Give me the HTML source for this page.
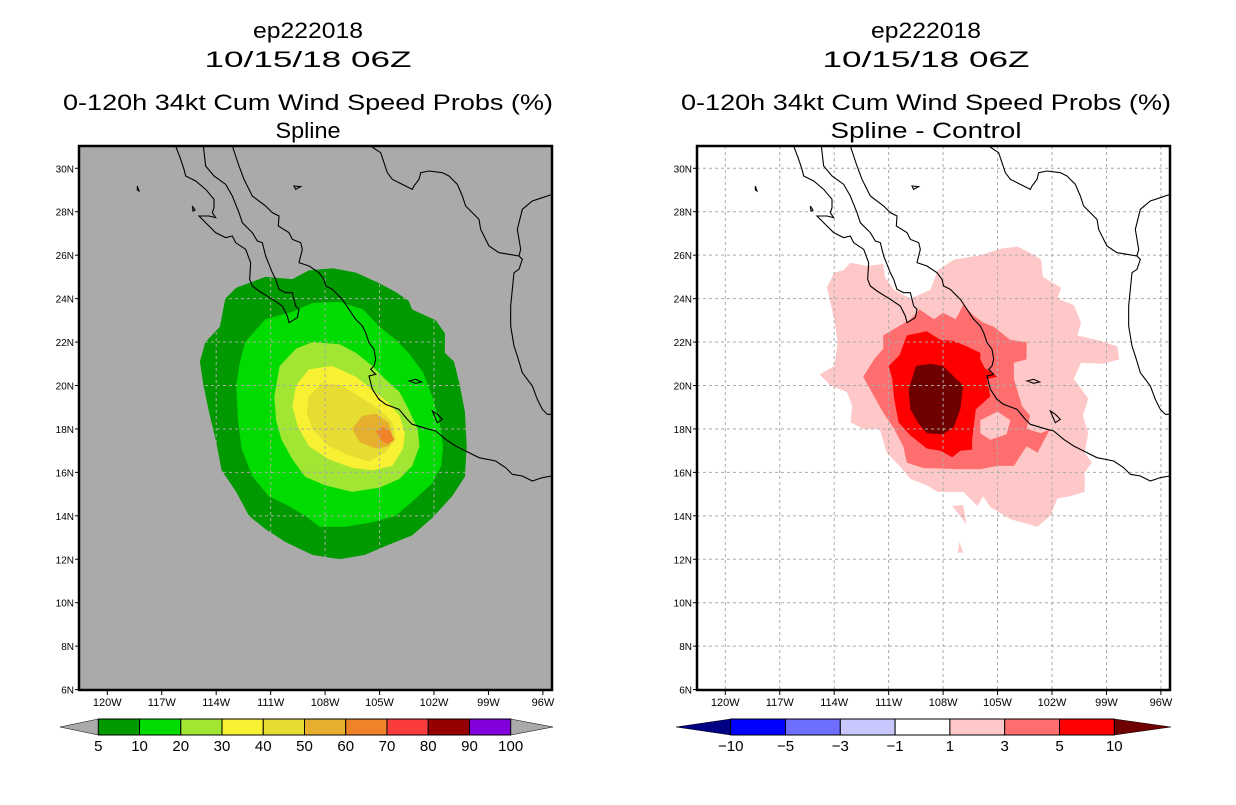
<!DOCTYPE html>
<html><head><meta charset="utf-8"><style>
body{margin:0;background:#fff;}
svg text{font-family:"Liberation Sans",sans-serif;}
</style></head><body>
<svg id="svg" width="1236" height="800" xmlns="http://www.w3.org/2000/svg">
<defs>
<clipPath id="clipL"><rect x="79" y="146" width="473" height="544"/></clipPath>
<clipPath id="clipR"><rect x="697" y="146" width="473" height="544"/></clipPath>
</defs>
</svg>
<script>
// ---------- DATA ----------
const lonTicks = [-120,-117,-114,-111,-108,-105,-102,-99,-96];
const lonTickLabels = ["120W","117W","114W","111W","108W","105W","102W","99W","96W"];
const latTicks = [6,8,10,12,14,16,18,20,22,24,26,28,30];
const latTickLabels = ["6N","8N","10N","12N","14N","16N","18N","20N","22N","24N","26N","28N","30N"];

const probLevels = [5,10,20,30,40,50,60,70,80,90,100];
const probColors = ["#009a00","#00dc00","#a0e632","#f8f032","#e6dc32","#e6af2d","#f08228","#fa3c3c","#960000","#8200dc"];
const prob5 = [[-113.5,24.0],[-112.9,24.5],[-111.3,25.0],[-109.8,24.9],[-108.9,25.3],[-107.6,25.4],[-106.3,25.2],[-105.0,24.7],[-104.1,24.3],[-103.4,23.9],[-103.2,23.5],[-101.9,23.0],[-101.4,22.4],[-101.4,21.5],[-100.9,21.1],[-100.6,20.1],[-100.3,18.8],[-100.2,17.2],[-100.3,15.8],[-101.0,14.9],[-102.1,13.9],[-103.2,13.1],[-104.7,12.6],[-105.8,12.2],[-107.2,12.0],[-108.7,12.2],[-110.2,12.8],[-111.3,13.4],[-112.2,14.0],[-112.9,15.1],[-113.7,16.1],[-114.0,17.4],[-114.4,18.8],[-114.7,20.0],[-114.9,21.1],[-114.6,22.0],[-113.8,22.7]];
const prob10 = [[-112.4,22.0],[-111.3,23.05],[-109.8,23.4],[-108.7,23.8],[-107.2,23.85],[-105.9,23.5],[-105.0,22.7],[-104.1,22.1],[-103.4,21.5],[-102.6,20.6],[-102.1,19.5],[-101.7,18.4],[-101.5,17.2],[-101.6,16.3],[-102.1,15.5],[-103.0,14.8],[-104.1,14.0],[-105.4,13.7],[-106.9,13.5],[-108.3,13.5],[-109.1,14.0],[-110.0,14.45],[-111.1,14.9],[-112.0,15.8],[-112.6,17.1],[-112.8,18.4],[-112.9,20.0],[-112.7,21.05]];
const prob20 = [[-110.5,20.9],[-109.6,21.7],[-108.7,22.0],[-107.2,21.9],[-106.3,21.5],[-105.4,20.9],[-104.7,20.3],[-103.9,19.7],[-103.4,18.9],[-102.9,18.0],[-102.8,17.2],[-103.2,16.3],[-103.9,15.7],[-105.0,15.3],[-106.5,15.1],[-108.0,15.4],[-109.1,15.8],[-109.8,16.6],[-110.4,17.5],[-110.7,18.4],[-110.8,19.5]];
const prob30 = [[-109.6,20.0],[-108.9,20.75],[-107.6,20.9],[-106.3,20.4],[-105.4,19.8],[-104.5,19.2],[-103.9,18.6],[-103.6,17.8],[-103.7,17.1],[-104.3,16.3],[-105.4,16.1],[-106.5,16.2],[-107.8,16.6],[-108.9,17.2],[-109.5,18.1],[-109.8,19.05]];
const prob40 = [[-108.9,19.5],[-108.2,20.1],[-107.05,20.0],[-105.95,19.4],[-105.0,18.9],[-104.3,18.3],[-104.1,17.5],[-104.7,16.9],[-105.6,16.5],[-106.7,16.8],[-107.8,17.2],[-108.7,18.0],[-109.0,18.75]];
const prob50 = [[-106.5,18.0],[-105.95,18.6],[-105.2,18.7],[-104.5,18.3],[-104.3,17.7],[-104.5,17.2],[-105.2,17.1],[-106.1,17.4]];
const prob60 = [[-105.2,17.9],[-104.85,18.1],[-104.4,17.9],[-104.2,17.5],[-104.5,17.3],[-104.9,17.45]];

const diffLevels = [-10,-5,-3,-1,1,3,5,10];
const diffColors = ["#0000ff","#6e6eff","#c8c8ff","#ffffff","#ffc8c8","#ff6e6e","#ff0000"];
const diffLowColor = "#000082", diffHighColor = "#6e0000";
const diff1 = [[-114.4,24.5],[-114.0,25.2],[-113.5,25.3],[-113.1,25.65],[-112.2,25.5],[-111.3,25.6],[-111.2,25.0],[-110.7,24.4],[-109.8,24.0],[-108.7,24.4],[-108.3,25.3],[-107.4,25.8],[-105.95,26.0],[-104.85,26.3],[-103.9,26.4],[-103.2,26.1],[-102.6,25.8],[-102.5,25.0],[-101.5,24.5],[-101.7,24.0],[-100.8,23.7],[-100.4,22.9],[-100.6,22.3],[-99.3,22.05],[-98.4,21.8],[-98.3,21.2],[-99.2,21.0],[-100.4,21.05],[-100.8,20.3],[-100.0,19.4],[-100.3,18.6],[-100.0,17.8],[-100.2,16.9],[-99.8,16.45],[-100.2,16.0],[-100.2,15.1],[-101.0,14.9],[-101.7,14.8],[-102.1,14.0],[-102.8,13.5],[-104.3,13.85],[-105.4,14.4],[-105.8,14.9],[-106.1,14.45],[-106.9,15.1],[-108.3,15.1],[-108.9,15.4],[-109.8,15.7],[-110.4,16.3],[-111.1,16.9],[-111.5,18.0],[-112.4,18.0],[-113.1,18.3],[-113.0,19.05],[-113.3,19.7],[-114.2,20.0],[-114.8,20.5],[-114.0,20.9],[-113.8,22.0],[-114.0,23.05],[-114.2,23.8]];
const diff1b = [[-107.5,14.45],[-106.9,14.5],[-106.7,13.6]];
const diff1c = [[-107.1,12.8],[-106.9,12.3],[-107.2,12.3]];
const diff3 = [[-111.3,22.3],[-110.5,22.7],[-109.8,23.05],[-109.3,23.5],[-108.5,23.05],[-108.0,23.35],[-107.3,23.05],[-106.9,23.7],[-106.3,23.2],[-105.8,22.9],[-105.2,22.7],[-104.3,22.1],[-103.4,22.0],[-103.4,21.2],[-104.1,21.05],[-104.1,20.3],[-103.65,19.05],[-103.2,18.6],[-103.4,18.0],[-102.6,17.8],[-102.1,18.0],[-102.8,16.9],[-103.4,17.2],[-104.1,16.3],[-105.0,16.3],[-105.95,16.15],[-107.2,16.15],[-109.1,16.2],[-110.0,16.45],[-110.2,17.2],[-110.7,18.0],[-111.3,18.75],[-111.8,19.5],[-112.4,20.4],[-111.8,21.2],[-111.3,21.7]];
const diff3hole = [[-105.95,18.4],[-105.0,18.8],[-104.3,18.4],[-104.5,17.75],[-105.4,17.5],[-105.95,17.8]];
const diff5 = [[-111.0,20.9],[-110.4,21.4],[-110.0,22.3],[-108.9,22.5],[-108.15,22.1],[-107.4,22.05],[-106.7,21.8],[-105.95,21.5],[-105.95,21.2],[-105.7,20.8],[-105.0,20.4],[-105.6,20.3],[-105.4,19.5],[-106.2,18.9],[-106.4,17.5],[-106.4,17.05],[-107.05,17.0],[-107.5,16.7],[-108.15,17.0],[-108.9,17.1],[-109.8,17.7],[-110.45,18.3],[-110.7,19.4],[-110.8,20.3]];
const diff10 = [[-109.5,20.9],[-108.7,21.0],[-108.0,20.9],[-107.4,20.4],[-106.9,20.0],[-107.05,18.9],[-107.4,18.1],[-108.0,17.75],[-108.9,17.8],[-109.4,18.3],[-109.8,18.9],[-109.9,19.8]];

// ---------- BASE MAP (panel-relative coords, x3) ----------
const coastPaths = [
"M290,0 L305,40 L315,70 L320,90 L350,105 L380,130 L405,160 L405,185 L400,200 L410,215 L390,210 L360,210 L385,235 L410,260 L440,275 L460,270 L470,290 L500,310 L515,350 L512,400 L520,420 L540,435 L580,460 L610,480 L625,510 L630,530 L655,515 L660,490 L650,480 L640,440 L620,440 L600,430 L590,400 L580,380 L560,330 L550,290 L535,285 L520,260 L490,230 L480,200 L460,150 L440,115 L405,90 L380,60 L373,0",
"M460,0 L470,30 L480,60 L495,100 L505,120 L520,150 L560,180 L580,200 L600,210 L598,240 L630,260 L640,280 L665,290 L670,310 L660,350 L690,360 L720,380 L735,400 L740,420 L760,430 L790,460 L810,490 L830,520 L850,540 L860,560 L870,590 L885,610 L890,640 L885,660 L875,670 L890,685 L870,690 L880,730 L900,760 L920,775 L960,790 L985,820 L1000,835 L1050,850 L1070,855 L1100,880 L1130,900 L1160,915 L1200,935 L1250,945 L1280,965 L1300,985 L1330,990 L1360,1005 L1390,995 L1419,990",
"M875,0 L905,20 L915,50 L925,80 L940,100 L970,115 L1000,130 L1005,120 L1020,100 L1025,80 L1050,75 L1090,80 L1110,90 L1120,100 L1135,115 L1150,150 L1160,180 L1180,200 L1200,220 L1205,250 L1220,280 L1230,300 L1260,320 L1290,325 L1320,330 L1325,310 L1315,250 L1330,190 L1360,165 L1390,155 L1419,145",
"M1320,330 L1330,340 L1320,370 L1305,380 L1300,430 L1295,480 L1295,540 L1305,600 L1315,630 L1330,680 L1360,720 L1375,760 L1390,790 L1405,805 L1419,805",
"M990,705 L1010,700 L1028,708 L1010,712 Z","M1060,795 L1075,805 L1090,820 L1075,830 Z","M175,120 L180,135 L175,132 Z","M340,180 L348,192 L342,195 Z","M645,120 L665,122 L650,130 Z"
];

const NS="http://www.w3.org/2000/svg";
const svg=document.getElementById('svg');
function mk(tag,attrs,parent){const e=document.createElementNS(NS,tag);for(const k in attrs)e.setAttribute(k,attrs[k]);(parent||svg).appendChild(e);return e;}

const PT=146, PW=473, PH=544;
function xS(L,lon){return L+28.3+(lon+120)*18.15;}
function yS(lat){return PT+22.3+(30-lat)*21.72;}
function poly(L,pts,fill,parent,name){
  const p=mk('polygon',{points:pts.map(p=>xS(L,p[0]).toFixed(1)+','+yS(p[1]).toFixed(1)).join(' '),fill:fill},parent);
  
  
}

function panel(L,side,titles,widths,bg,layers){
  const g=mk('g',{});
  
  
  const cx=L+229;
  const ys=[38,67,110,138];
  titles.forEach((t,i)=>{
    const tx=mk('text',{x:cx-widths[i]/2,y:ys[i],'font-size':'22',fill:'#000',textLength:widths[i],lengthAdjust:'spacingAndGlyphs'},g);
    tx.textContent=t;
    
    
  });
  mk('rect',{x:L,y:PT,width:PW,height:PH,fill:bg},g);
  const cg=mk('g',{'clip-path':'url(#clip'+side[0].toUpperCase()+')'},g);
  
  
  layers.forEach(l=>poly(L,l[0],l[1],cg,l[2]));
  const gc = '#aaaaaa';
  lonTicks.forEach(lo=>{const x=xS(L,lo);const ln=mk('line',{x1:x,x2:x,y1:PT,y2:PT+PH,stroke:gc,'stroke-width':1,'stroke-dasharray':'3,3'},cg);});
  latTicks.forEach(la=>{const y=yS(la);const ln=mk('line',{x1:L,x2:L+PW,y1:y,y2:y,stroke:gc,'stroke-width':1,'stroke-dasharray':'3,3'},cg);});
  const cs=mk('g',{transform:'translate('+L+','+PT+') scale(0.33333)',fill:'none',stroke:'#000','stroke-width':1},cg);
  
  
  coastPaths.forEach(d=>mk('path',{d:d,'vector-effect':'non-scaling-stroke','stroke-width':1.1},cs));
  mk('rect',{x:L,y:PT,width:PW,height:PH,fill:'none',stroke:'#000','stroke-width':2.5},g);
  lonTicks.forEach((lo,i)=>{const x=xS(L,lo);mk('line',{x1:x,x2:x,y1:PT+PH,y2:PT+PH+5,stroke:'#000'},g);
    const t=mk('text',{x:x,y:PT+PH+16,'font-size':'11','text-anchor':'middle',fill:'#000'},g);t.textContent=lonTickLabels[i];
    });
  latTicks.forEach((la,i)=>{const y=yS(la);mk('line',{x1:L-4,x2:L,y1:y,y2:y,stroke:'#000'},g);
    const t=mk('text',{x:L-5,y:y+4,'font-size':'10','text-anchor':'end',fill:'#000'},g);t.textContent=latTickLabels[i];
    });
  return g;
}

panel(79,'left',["ep222018","10/15/18 06Z","0-120h 34kt Cum Wind Speed Probs (%)","Spline"],[110,207,490,65],'#aaaaaa',
 [[prob5,probColors[0],'prob-5'],[prob10,probColors[1],'prob-10'],[prob20,probColors[2],'prob-20'],[prob30,probColors[3],'prob-30'],[prob40,probColors[4],'prob-40'],[prob50,probColors[5],'prob-50'],[prob60,probColors[6],'prob-60']]);
panel(697,'right',["ep222018","10/15/18 06Z","0-120h 34kt Cum Wind Speed Probs (%)","Spline - Control"],[110,207,490,191],'#ffffff',
 [[diff1,diffColors[4],'diff-1'],[diff1b,diffColors[4],'diff-1-blob'],[diff1c,diffColors[4],'diff-1-blob2'],[diff3,diffColors[5],'diff-3'],[diff3hole,diffColors[4],'diff-3-hole'],[diff5,diffColors[6],'diff-5'],[diff10,diffHighColor,'diff-10']]);

function colorbar(x0,x1,tl,tr,cols,labels,lowC,highC,side){
  const g=mk('g',{});
  
  
  const y0=719,y1=735,ym=727,n=cols.length,w=(x1-x0)/n;
  mk('polygon',{points:tl+','+ym+' '+x0+','+y0+' '+x0+','+y1,fill:lowC,stroke:'#000','stroke-width':0.5},g);
  mk('polygon',{points:tr+','+ym+' '+x1+','+y0+' '+x1+','+y1,fill:highC,stroke:'#000','stroke-width':0.5},g);
  cols.forEach((c,i)=>{const r=mk('rect',{x:x0+i*w,y:y0,width:w,height:y1-y0,fill:c,stroke:'#000','stroke-width':1},g);
    });
  labels.forEach((v,i)=>{const t=mk('text',{x:x0+i*w,y:751,'font-size':'15','text-anchor':'middle',fill:'#000'},g);
    t.textContent=String(v).replace('-','\u2212');
    });
}
colorbar(98.3,510.7,60,553,probColors,probLevels,'#aaaaaa','#aaaaaa','left');
colorbar(730.7,1114.3,676,1171,diffColors,diffLevels,diffLowColor,diffHighColor,'right');
</script>
</body></html>
